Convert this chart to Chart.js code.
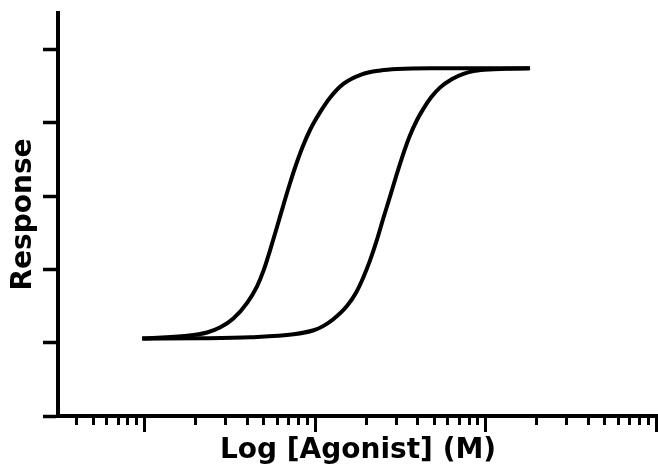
<!DOCTYPE html>
<html>
<head>
<meta charset="utf-8">
<script src="https://cdn.jsdelivr.net/npm/chart.js@4/dist/chart.umd.min.js"></script>
<style>
  html, body { margin: 0; padding: 0; background: #fff; }
  #wrap { width: 658px; height: 467px; }
</style>
</head>
<body>
<div id="wrap"><canvas id="c" width="658" height="467"></canvas></div>
<script>
// ---- Data (log10 of agonist concentration in M, response) ----
const leftLogConc = [-9.013, -8.750, -8.633, -8.555, -8.479, -8.398, -8.340, -8.301, -8.262, -8.223,
                     -8.184, -8.145, -8.115, -8.076, -8.028, -7.969, -7.910, -7.832, -7.729, -7.617,
                     -7.518, -7.325, -6.743];
const leftResponse = [21.2, 21.9, 22.8, 24.2, 26.6, 30.9, 35.4, 39.8, 45.5, 51.6,
                      57.8, 63.8, 68.1, 73.1, 78.2, 83.0, 87.0, 90.7, 93.2, 94.3,
                      94.7, 94.9, 94.9];

const rightLogConc = [-9.013, -8.672, -8.379, -8.125, -8.008, -7.950, -7.893, -7.813, -7.758, -7.717,
                      -7.678, -7.639, -7.600, -7.561, -7.522, -7.483, -7.444, -7.402, -7.364, -7.319,
                      -7.266, -7.196, -7.130, -7.061, -6.973, -6.856, -6.739];
const rightResponse = [21.1, 21.2, 21.5, 22.3, 23.4, 24.6, 26.4, 30.0, 33.8, 37.8,
                       42.4, 47.8, 53.9, 59.8, 65.8, 71.5, 76.5, 80.8, 83.9, 87.0,
                       89.7, 92.0, 93.4, 94.2, 94.6, 94.8, 94.9];

// Axis ticks (no labels are shown in the reference)
const xMajorTicks = [1e-9, 1e-8, 1e-7, 1e-6];
const xMinorTicks = [4e-10, 5e-10, 6e-10, 7e-10, 8e-10, 9e-10,
                     2e-9, 3e-9, 4e-9, 5e-9, 6e-9, 7e-9, 8e-9, 9e-9,
                     2e-8, 3e-8, 4e-8, 5e-8, 6e-8, 7e-8, 8e-8, 9e-8,
                     2e-7, 3e-7, 4e-7, 5e-7, 6e-7, 7e-7, 8e-7, 9e-7];
const yTicks = [0, 20, 40, 60, 80, 100];
const xAxisTitle = 'Log [Agonist] (M)';
const yAxisTitle = 'Response';

// ---- Build chart ----
const toPoints = (lx, ys) => lx.map((v, i) => ({ x: Math.pow(10, v), y: ys[i] }));
const isMajor = v => xMajorTicks.some(m => Math.abs(Math.log10(m) - Math.log10(v)) < 1e-6);
const titleFont = { family: 'DejaVu Sans', weight: 'bold', size: 28 };

new Chart(document.getElementById('c'), {
  type: 'line',
  data: {
    datasets: [
      { label: 'Agonist', data: toPoints(leftLogConc, leftResponse) },
      { label: 'Agonist + antagonist', data: toPoints(rightLogConc, rightResponse) }
    ]
  },
  options: {
    responsive: false,
    animation: false,
    layout: { padding: { top: 13, right: 0, bottom: 0, left: 0 }, autoPadding: false },
    plugins: { legend: { display: false }, tooltip: { enabled: false } },
    elements: {
      line: { borderColor: '#000', borderWidth: 4, cubicInterpolationMode: 'monotone', fill: false },
      point: { radius: 0, hoverRadius: 0 }
    },
    scales: {
      x: {
        type: 'logarithmic',
        position: 'bottom',
        min: Math.pow(10, -9.507),
        max: Math.pow(10, -5.989),
        afterBuildTicks: s => {
          s.ticks = xMinorTicks.concat(xMajorTicks).sort((a, b) => a - b)
            .map(v => ({ value: v, major: isMajor(v) }));
        },
        afterFit: s => { s.height = 51; },
        ticks: { display: false },
        grid: {
          drawOnChartArea: false,
          drawTicks: true,
          tickLength: 16,
          tickWidth: 3,
          tickColor: '#000',
          tickBorderDash: ctx => (ctx.tick && isMajor(ctx.tick.value)) ? [] : [7, 40]
        },
        border: { display: true, color: '#000', width: 4 },
        title: { display: true, text: xAxisTitle, color: '#000', font: titleFont, padding: { top: 0, bottom: -1 } }
      },
      y: {
        type: 'linear',
        position: 'left',
        min: 0,
        max: 110,
        afterBuildTicks: s => { s.ticks = yTicks.map(v => ({ value: v })); },
        afterFit: s => { s.width = 58; },
        ticks: { display: false },
        grid: {
          drawOnChartArea: false,
          drawTicks: true,
          tickLength: 15,
          tickWidth: 3.5,
          tickColor: '#000'
        },
        border: { display: true, color: '#000', width: 4 },
        title: { display: true, text: yAxisTitle, color: '#000', font: titleFont, padding: { top: 7, bottom: 0 } }
      }
    }
  }
});
</script>
</body>
</html>
